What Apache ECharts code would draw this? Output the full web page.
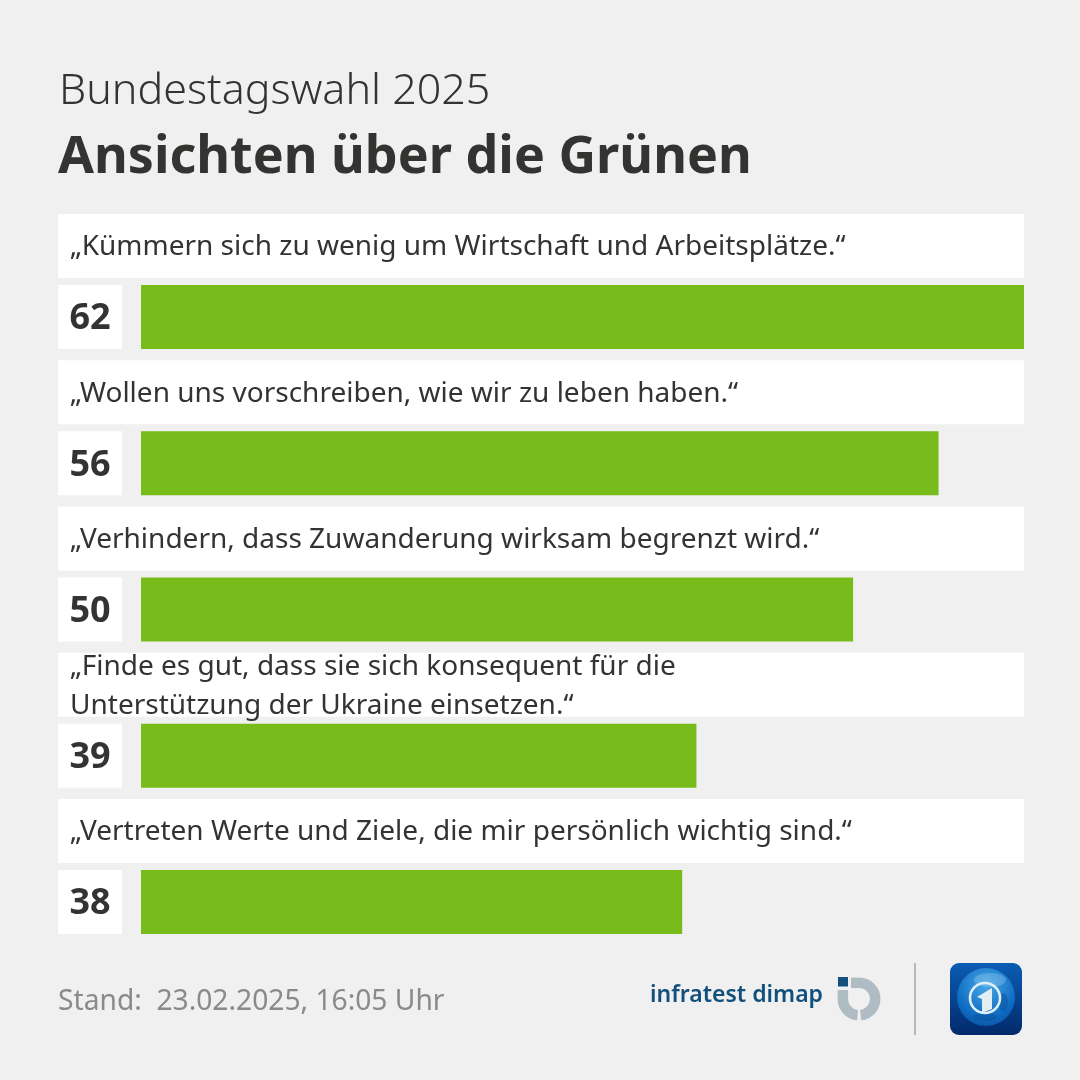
<!DOCTYPE html>
<html><head><meta charset="utf-8">
<style>html,body{margin:0;padding:0;background:#f0f0f0}#c{width:1080px;height:1080px}</style>
<script src="https://cdn.jsdelivr.net/npm/echarts@6/dist/echarts.min.js"></script></head>
<body><div id="c"></div>
<script>
const categories = [
  "„Kümmern sich zu wenig um Wirtschaft und Arbeitsplätze.“",
  "„Wollen uns vorschreiben, wie wir zu leben haben.“",
  "„Verhindern, dass Zuwanderung wirksam begrenzt wird.“",
  "„Finde es gut, dass sie sich konsequent für die\nUnterstützung der Ukraine einsetzen.“",
  "„Vertreten Werte und Ziele, die mir persönlich wichtig sind.“"
];
const values = [62, 56, 50, 39, 38];
const headline = "Bundestagswahl 2025";
const title = "Ansichten über die Grünen";
const stand = "Stand:  23.02.2025, 16:05 Uhr";
const FONT = '"Noto Sans", sans-serif';
const INK = '#333331';
const GREY = '#b0bcc3';

const chart = echarts.init(document.getElementById('c'), null, {renderer:'canvas'});
chart.setOption({
  backgroundColor:'#f0f0f0',
  animation:false,
  title:[
    {text:headline,left:59,top:70,padding:0,textStyle:{fontFamily:FONT,fontSize:43,fontWeight:300,color:INK}},
    {text:title,left:58,top:132,padding:0,textStyle:{fontFamily:FONT,fontSize:52,fontWeight:700,color:INK}},
    {text:stand,left:58,top:988,padding:0,textStyle:{fontFamily:FONT,fontSize:28.2,fontWeight:400,color:'#8a8a8a'}}
  ],
  grid:{left:141,top:243.875,width:883,height:731.25,containLabel:false},
  xAxis:{type:'value',min:0,max:62,show:false},
  yAxis:{type:'category',data:categories,inverse:true,show:false},
  series:[
    {type:'custom',name:'Aussage',coordinateSystem:'cartesian2d',silent:true,z:1,
     data:categories.map((c,i)=>[0,i,c]),
     encode:{x:0,y:1},
     renderItem(params,api){
       const p=api.coord([0,api.value(1)]);
       const step=api.size([0,1])[1];
       const cs=params.coordSys;
       const cy=p[1]-step*0.4855;
       const h=step*0.4376;
       return {type:'group',children:[
         {type:'rect',shape:{x:cs.x-83,y:cy-h/2,width:cs.width+83,height:h},style:{fill:'#fff'}},
         {type:'text',x:cs.x-71,y:cy+1.5,style:{text:categories[api.value(1)],fontFamily:FONT,fontSize:28,lineHeight:39,fill:INK,verticalAlign:'middle',align:'left'}}
       ]};
     }},
    {type:'bar',name:'Zustimmung',data:values,barWidth:64,z:2,silent:true,
     itemStyle:{color:'#78bc1b'},
     label:{show:true,position:'left',distance:51,width:64,height:64,align:'center',verticalAlign:'middle',
       formatter:'{n|{c}}',backgroundColor:'#fff',
       rich:{n:{color:INK,fontFamily:FONT,fontWeight:700,fontSize:36,lineHeight:64,padding:[4,0,0,0]}}}}
  ],
  graphic:[
    {type:'text',left:650,top:984,style:{text:'infratest dimap',fontFamily:FONT,fontSize:23,fontWeight:600,fill:'#11507c'}},
    {type:'rect',shape:{x:838,y:977,width:10,height:9.5},style:{fill:'#14507e'}},
    {type:'arc',shape:{cx:859,cy:999,r:16.2,startAngle:-1.5708,endAngle:1.47},style:{stroke:GREY,fill:'none',lineWidth:10.5}},
    {type:'rect',shape:{x:851,y:977.6,width:8,height:10.5},style:{fill:GREY}},
    {type:'arc',shape:{cx:859,cy:999,r:16.2,startAngle:1.66,endAngle:3.1416},style:{stroke:GREY,fill:'none',lineWidth:10.5}},
    {type:'rect',shape:{x:837.6,y:990,width:10.5,height:9},style:{fill:GREY}},
    {type:'rect',shape:{x:914,y:963,width:2,height:72},style:{fill:'#b9b9b9'}},
    {type:'rect',shape:{x:950,y:963,width:72,height:72,r:9},style:{fill:{type:'linear',x:0,y:0,x2:0,y2:1,colorStops:[{offset:0,color:'#0a5db4'},{offset:1,color:'#03296b'}]}}},
    {type:'circle',shape:{cx:986,cy:997,r:29},style:{fill:{type:'radial',x:0.5,y:0.3,r:0.75,colorStops:[{offset:0,color:'#4aa8e6'},{offset:0.7,color:'#0f6dc2'},{offset:1,color:'#0a54a6'}]}}},
    {type:'ellipse',shape:{cx:990,cy:980,rx:16,ry:7},style:{fill:'#a9d6f2',opacity:0.3}},
    {type:'ellipse',shape:{cx:1003,cy:1002,rx:5,ry:9},style:{fill:'#0a4f9c',opacity:0.5}},
    {type:'ellipse',shape:{cx:985,cy:1017,rx:12,ry:4},style:{fill:'#0a4f9c',opacity:0.5}},
    {type:'circle',shape:{cx:985,cy:998,r:15},style:{fill:'none',stroke:'#dfeff9',lineWidth:2.6}},
    {type:'polygon',shape:{points:[[977,997],[992,988],[992,1009],[982,1013],[982,999]]},style:{fill:'#e3edf4'}}
  ]
});
</script></body></html>
